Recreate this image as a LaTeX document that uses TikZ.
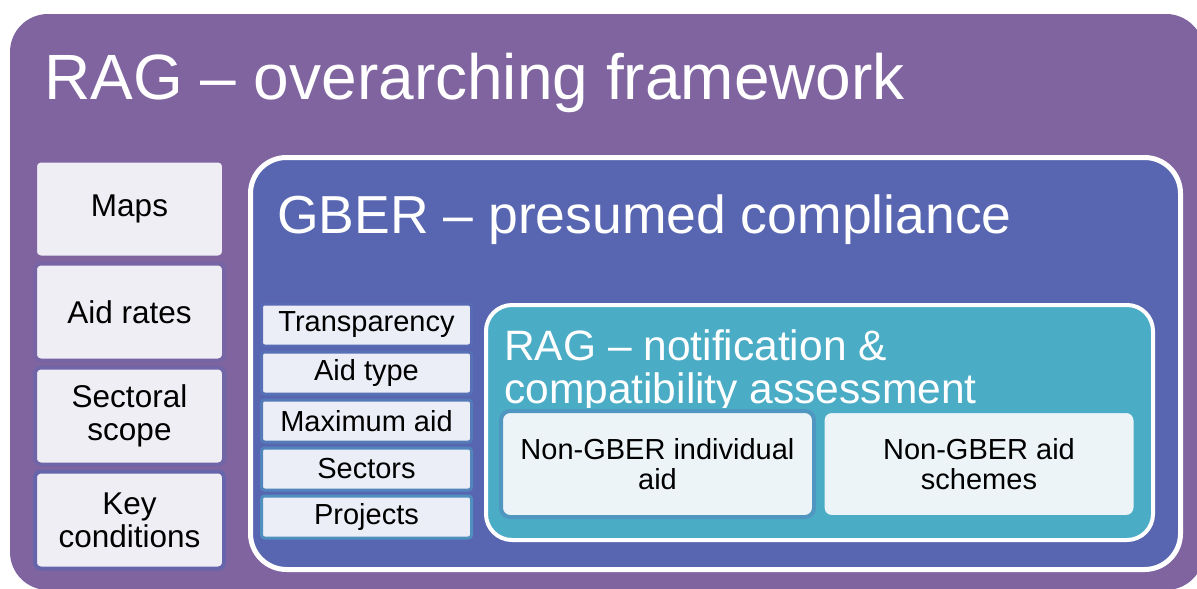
\documentclass[tikz,border=0pt]{standalone}
\usepackage{fontspec}
\setmainfont{Liberation Sans}
\definecolor{ragpurple}{HTML}{7F64A0}
\definecolor{gberblue}{HTML}{5866B2}
\definecolor{notiteal}{HTML}{4BACC6}
\definecolor{leftfill}{HTML}{F0EEF5}
\definecolor{midfill}{HTML}{ECEEF7}
\definecolor{innerfill}{HTML}{ECF4F8}

\begin{document}
\begin{tikzpicture}[x=1pt,y=-1pt,
  title/.style={anchor=base west,inner sep=0,text=white,align=left},
  leftbox/.style={draw=#1,line width=4,fill=leftfill,rounded corners=6,minimum width=189,minimum height=97,align=center,font=\fontsize{31.5}{33}\selectfont},
  midbox/.style={draw=#1,line width=3,fill=midfill,rounded corners=3,minimum width=210,minimum height=42,align=center,font=\fontsize{29}{30}\selectfont},
  innerbox/.style={draw=#1,line width=4,fill=innerfill,rounded corners=9,minimum width=313,minimum height=106,align=center,font=\fontsize{29}{30}\selectfont}]
\useasboundingbox (0,0) rectangle (1197,589);
\clip (0,0) rectangle (1197,589);

\fill[ragpurple,rounded corners=38] (10,14) rectangle (1204,590);
\node[title,font=\fontsize{64}{66}\selectfont] (ragtitle) at (44,99) {RAG – overarching framework};

\foreach \n/\txt/\p/\y in {maps/Maps/0/209,rates/Aid rates/20/312,scope/{Sectoral\\scope}/40/416,cond/{Key\\conditions}/65/520}
\node[leftbox=gberblue!\p!ragpurple] (\n) at (129.5,\y) {\txt};

\draw[white,line width=5,fill=gberblue,rounded corners=36] (250.5,157.5) rectangle (1180.5,569.5);
\node[title,font=\fontsize{53.5}{56}\selectfont] (gbertitle) at (277,233) {GBER – presumed compliance};

\foreach \n/\txt/\p/\i in {transp/Transparency/5/0,aidtype/Aid type/15/1,maxaid/Maximum aid/30/2,sectors/Sectors/45/3,projects/Projects/60/4}
\node[midbox=notiteal!\p!gberblue] (\n) at (366.5,325+48*\i) {\txt};

\draw[white,line width=4,fill=notiteal,rounded corners=26] (486,305) rectangle (1153,540);
\begin{scope}
\clip (484,300) rectangle (1160,407);
\node[title,font=\fontsize{42.5}{43}\selectfont] (notititle) at (504,403) {RAG – notification \&\\compatibility assessment};
\end{scope}

\node[innerbox=gberblue!30!notiteal] (indiv) at (657.5,464) {Non-GBER individual\\aid};
\node[innerbox=notiteal] (schemes) at (979,464) {Non-GBER aid\\schemes};
\end{tikzpicture}
\end{document}
